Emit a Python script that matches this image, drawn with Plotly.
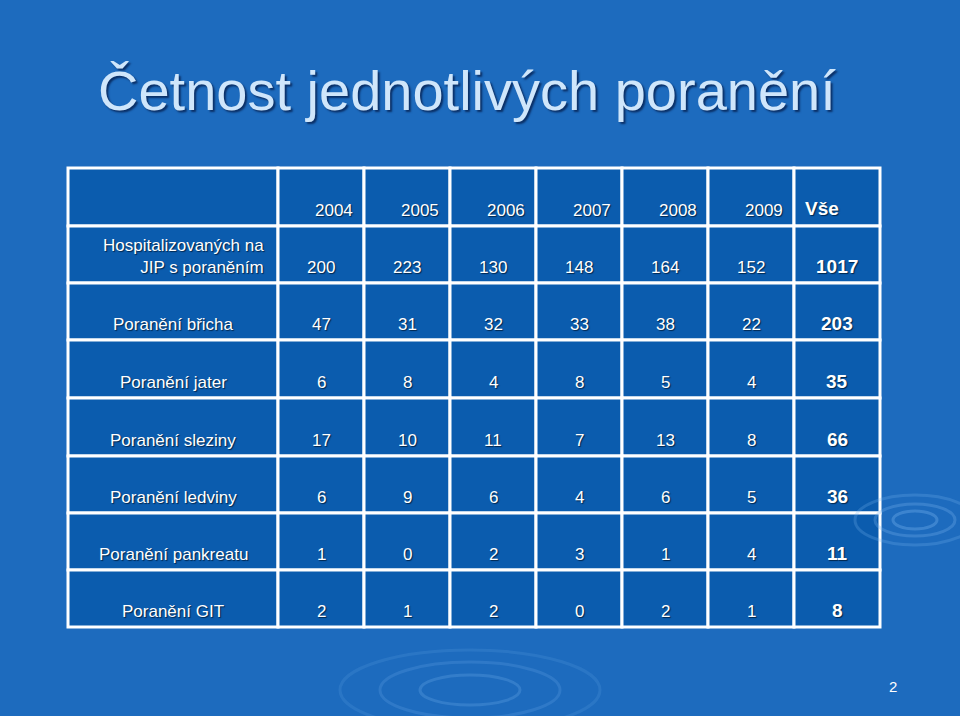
import plotly.graph_objects as go

title = "Četnost jednotlivých poranění"
years = ["2004", "2005", "2006", "2007", "2008", "2009"]
total_label = "Vše"
row_labels = ["Hospitalizovaných na<br>JIP s poraněním", "Poranění břicha", "Poranění jater",
              "Poranění sleziny", "Poranění ledviny", "Poranění pankreatu", "Poranění GIT"]
values = [
    [200, 223, 130, 148, 164, 152],
    [47, 31, 32, 33, 38, 22],
    [6, 8, 4, 8, 5, 4],
    [17, 10, 11, 7, 13, 8],
    [6, 9, 6, 4, 6, 5],
    [1, 0, 2, 3, 1, 4],
    [2, 1, 2, 0, 2, 1],
]
totals = [1017, 203, 35, 66, 36, 11, 8]
page = "2"

col_edges = [68, 278, 364, 450, 536, 622, 708, 794, 880]
row_edges = [168, 226, 283, 340, 398, 456, 513, 570, 627]

fig = go.Figure()
shapes = []
ann = []
cell_fill = "#0b5cae"
for r in range(len(row_edges) - 1):
    for c in range(len(col_edges) - 1):
        shapes.append(dict(type="rect", x0=col_edges[c], x1=col_edges[c + 1],
                           y0=row_edges[r], y1=row_edges[r + 1], xref="x", yref="y",
                           fillcolor=cell_fill, line=dict(color="white", width=3), layer="below"))

shadow = "1px 1px 1px #00264d"
fam = "Liberation Sans Narrow, Liberation Sans, Arial"
fnt = dict(family=fam, size=17, color="white", shadow=shadow)
bfnt = dict(family=fam, size=19, color="white", shadow=shadow, weight="bold")

def a(x, y, text, font, xanchor="center", align="center"):
    ann.append(dict(x=x, y=y, xref="x", yref="y", text=text, showarrow=False, font=font,
                    xanchor=xanchor, yanchor="middle", align=align))

for i, yv in enumerate(years):
    a(col_edges[i + 2] - 9, row_edges[1] - 16, yv, fnt, xanchor="right")
a(col_edges[7] + 9, row_edges[1] - 18, total_label, bfnt, xanchor="left")
cx0 = (col_edges[0] + col_edges[1]) / 2
for r, lab in enumerate(row_labels):
    yb = row_edges[r + 2] - 16
    if r == 0:
        a(col_edges[1] - 12, yb - 11, lab, fnt, xanchor="right", align="right")
    else:
        a(cx0, yb, lab, fnt)
    for c, v in enumerate(values[r]):
        a((col_edges[c + 1] + col_edges[c + 2]) / 2, yb, str(v), fnt)
    a((col_edges[7] + col_edges[8]) / 2, yb - 1, str(totals[r]), bfnt)

ann.append(dict(x=96, y=90, xref="x", yref="y", text=title, showarrow=False, xanchor="left",
                yanchor="middle", font=dict(family="Liberation Sans, Arial", size=56, color="#cfe6fb",
                                            shadow="2px 2px 2px #0a2f66")))
ann.append(dict(x=893, y=686, xref="x", yref="y", text=page, showarrow=False,
                font=dict(family="Liberation Sans, Arial", size=15, color="white")))

for rx, ry, op in [(60, 25, 0.25), (40, 16, 0.3), (22, 9, 0.35)]:
    shapes.append(dict(type="circle", x0=915 - rx, x1=915 + rx, y0=520 - ry, y1=520 + ry, xref="x", yref="y",
                       line=dict(color=f"rgba(120,180,240,{op})", width=3), layer="below"))
for rx, ry, op in [(130, 40, 0.15), (90, 28, 0.2), (50, 15, 0.25)]:
    shapes.append(dict(type="circle", x0=470 - rx, x1=470 + rx, y0=690 - ry, y1=690 + ry, xref="x", yref="y",
                       line=dict(color=f"rgba(120,180,240,{op})", width=3), layer="below"))

fig.update_layout(width=960, height=716, margin=dict(l=0, r=0, t=0, b=0),
                  paper_bgcolor="#1d6bbe", plot_bgcolor="#1d6bbe",
                  xaxis=dict(range=[0, 960], visible=False, fixedrange=True),
                  yaxis=dict(range=[716, 0], visible=False, fixedrange=True),
                  shapes=shapes, annotations=ann, showlegend=False)
fig.write_html("out.html", config={"displayModeBar": False},
               post_script="document.body.style.margin='0';document.body.style.background='#1d6bbe';")
